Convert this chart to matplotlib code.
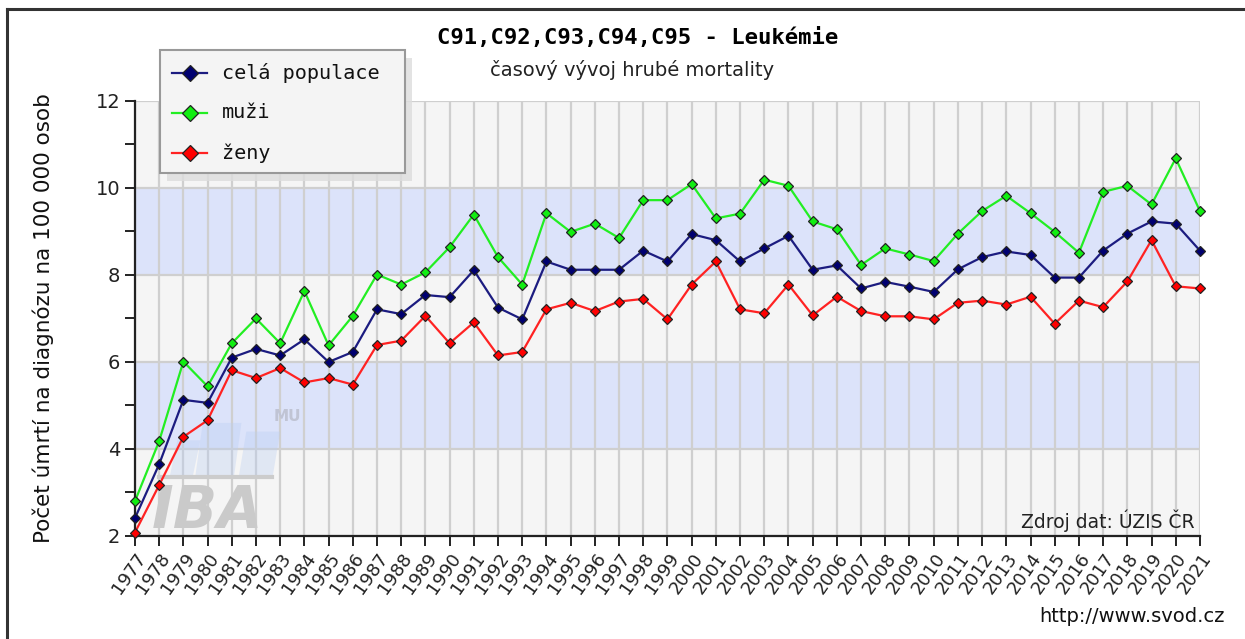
import matplotlib.pyplot as plt
from matplotlib.patches import Rectangle, Polygon
from matplotlib.lines import Line2D

# roky a hrubá mortalita na 100 000 osob
roky = list(range(1977, 2022))

cela_populace = [2.41, 3.65, 5.13, 5.06, 6.10, 6.30, 6.15, 6.52, 6.00, 6.23,
                 7.21, 7.10, 7.54, 7.49, 8.11, 7.25, 6.98, 8.31, 8.12, 8.12,
                 8.12, 8.56, 8.31, 8.94, 8.80, 8.31, 8.61, 8.90, 8.12, 8.22,
                 7.69, 7.84, 7.73, 7.61, 8.13, 8.41, 8.54, 8.46, 7.94, 7.94,
                 8.56, 8.95, 9.23, 9.18, 8.56]

muzi = [2.80, 4.18, 6.01, 5.44, 6.43, 7.00, 6.43, 7.63, 6.38, 7.06,
        8.01, 7.78, 8.06, 8.64, 9.39, 8.41, 7.78, 9.42, 8.99, 9.18,
        8.85, 9.72, 9.72, 10.09, 9.30, 9.41, 10.19, 10.05, 9.23, 9.05,
        8.23, 8.61, 8.47, 8.32, 8.95, 9.47, 9.82, 9.42, 8.99, 8.51,
        9.91, 10.05, 9.62, 10.68, 9.47]

zeny = [2.08, 3.17, 4.28, 4.66, 5.81, 5.63, 5.86, 5.53, 5.63, 5.48,
        6.39, 6.49, 7.06, 6.43, 6.91, 6.15, 6.23, 7.21, 7.36, 7.17,
        7.39, 7.45, 6.98, 7.78, 8.31, 7.21, 7.12, 7.78, 7.07, 7.50,
        7.17, 7.05, 7.05, 6.98, 7.36, 7.41, 7.32, 7.50, 6.88, 7.41,
        7.26, 7.85, 8.80, 7.74, 7.69]

serie = [("celá populace", cela_populace, "#1c1c80", "#000070"),
         ("muži", muzi, "#22ee22", "#11ee11"),
         ("ženy", zeny, "#ff2222", "#ff0000")]

fig = plt.figure(figsize=(12.45, 6.39), dpi=100)
fig.patch.set_facecolor("white")
ax = fig.add_axes([0.1084, 0.1612, 0.8554, 0.6808])

ax.set_xlim(1977, 2021)
ax.set_ylim(2, 12)
ax.set_facecolor("#f5f5f5")

# modré pruhy 4-6 a 8-10
for dole in (4, 8):
    ax.axhspan(dole, dole + 2, color="#dce3fa", zorder=0, lw=0)

ax.set_xticks(roky)
ax.set_yticks(range(2, 13, 2))
ax.set_yticks(range(3, 12, 2), minor=True)
ax.grid(True, color="#cfcfcf", lw=1.6, zorder=0.5)
ax.set_axisbelow(True)

for s in ("top", "right"):
    ax.spines[s].set_visible(False)
for s in ("left", "bottom"):
    ax.spines[s].set_linewidth(1.6)
    ax.spines[s].set_color("#222222")

ax.tick_params(axis="y", which="both", direction="out", length=7, width=1.4,
               labelsize=14, colors="#222222")
ax.tick_params(axis="x", direction="out", length=7, width=1.4,
               labelsize=13, colors="#222222", pad=3)
ax.set_xticklabels([str(r) for r in roky], rotation=55, ha="right",
                   rotation_mode="anchor")

# logo IBA MU v pozadí
for x0, x1, vrch in [(1978.45, 1979.4, 4.2), (1979.5, 1981.1, 4.6), (1981.3, 1982.7, 4.4)]:
    sklon = 0.3
    ax.add_patch(Polygon([(x0, 3.4), (x1, 3.4), (x1 + sklon, vrch), (x0 + sklon, vrch)],
                         closed=True, color="#b9cdf2", alpha=0.35, zorder=0.8, lw=0))
ax.plot([1978.0, 1982.65], [3.36, 3.36], color="#cccccc", lw=3, zorder=0.9)
ax.text(1980.0, 3.22, "IBA", fontsize=42, fontweight="bold", fontstyle="italic",
        color="#cacaca", ha="center", va="top", zorder=0.9)
ax.text(1983.3, 4.58, "MU", fontsize=11, fontweight="bold",
        color="#c0c4d4", ha="center", va="bottom", zorder=0.9)

for nazev, hodnoty, barva, vypln in serie:
    ax.plot(roky, hodnoty, color=barva, lw=1.6, marker="D", markersize=5.5,
            markerfacecolor=vypln, markeredgecolor="#222222", markeredgewidth=0.9,
            clip_on=False, zorder=3, label=nazev)

ax.text(0.995, 0.01, "Zdroj dat: ÚZIS ČR", transform=ax.transAxes,
        ha="right", va="bottom", fontsize=13.5, color="#222222")

ax.set_ylabel("Počet úmrtí na diagnózu na 100 000 osob", fontsize=15.5,
              color="#111111", labelpad=30)

# titulky
fig.text(0.512, 0.942, "C91,C92,C93,C94,C95 - Leukémie", ha="center",
         va="center", fontsize=16, fontweight="bold", family="DejaVu Sans Mono")
fig.text(0.508, 0.890, "časový vývoj hrubé mortality", ha="center",
         va="center", fontsize=14, color="#222222")
fig.text(0.984, 0.035, "http://www.svod.cz", ha="right", va="center",
         fontsize=14, color="#111111")

# legenda se stínem
leg_x, leg_y, leg_w, leg_h = 160 / 1245, 1 - 173 / 639, 245 / 1245, 123 / 639
fig.patches.append(Rectangle((leg_x + 0.006, leg_y - 0.012), leg_w, leg_h,
                             transform=fig.transFigure, facecolor="#dddddd",
                             edgecolor="none", alpha=0.8, zorder=5))
fig.patches.append(Rectangle((leg_x, leg_y), leg_w, leg_h,
                             transform=fig.transFigure, facecolor="#f4f4f4",
                             edgecolor="#999999", lw=1.5, zorder=6))
for i, (nazev, hodnoty, barva, vypln) in enumerate(serie):
    yy = 1 - (73 + i * 40) / 639
    fig.add_artist(Line2D([172 / 1245, 190 / 1245, 207 / 1245], [yy, yy, yy],
                          color=barva, lw=1.6, marker="D", markevery=[1],
                          markersize=8, markerfacecolor=vypln,
                          markeredgecolor="#222222", markeredgewidth=0.9,
                          transform=fig.transFigure, zorder=7))
    fig.text(222 / 1245, yy, nazev, ha="left", va="center", fontsize=14.5,
             family="DejaVu Sans Mono", color="#111111", zorder=8)

# rámeček nahoře a vlevo
fig.add_artist(Line2D([7 / 1245, 1.0], [1 - 9 / 639, 1 - 9 / 639], color="#333333",
                      lw=2.2, transform=fig.transFigure, zorder=10))
fig.add_artist(Line2D([7 / 1245, 7 / 1245], [0.0, 1 - 9 / 639], color="#333333",
                      lw=2.2, transform=fig.transFigure, zorder=10))

fig.savefig("out.png", dpi=100)
